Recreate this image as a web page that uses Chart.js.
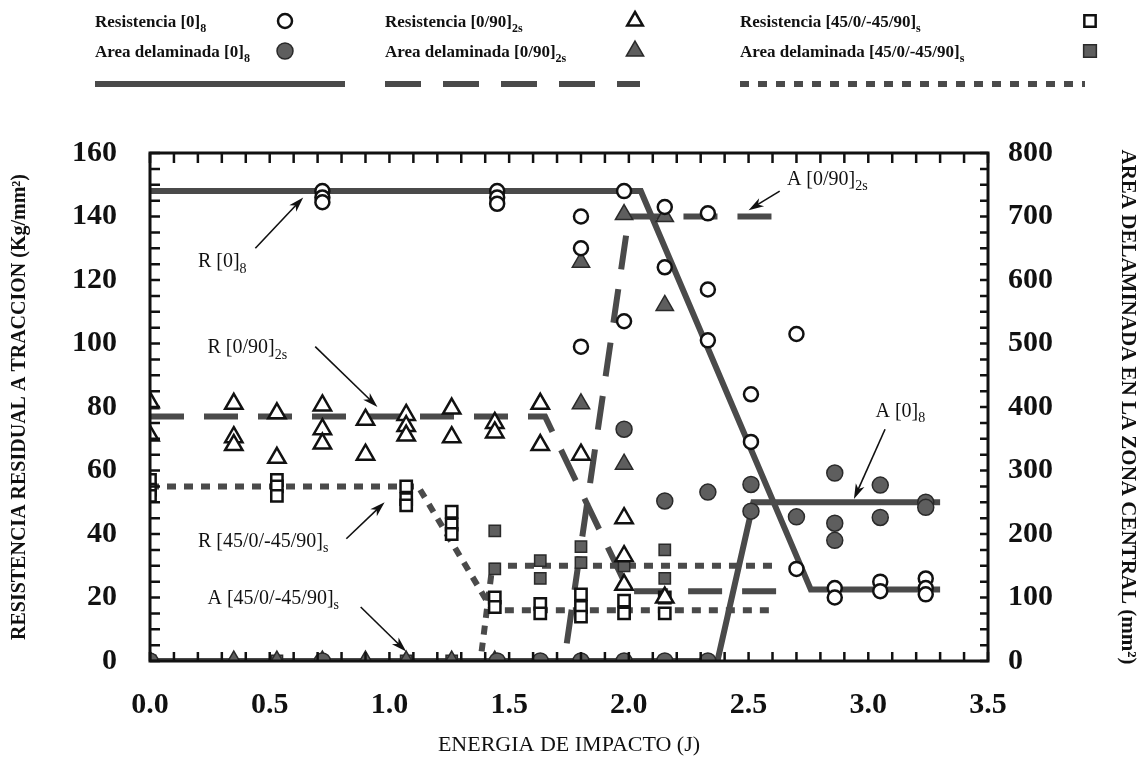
<!DOCTYPE html>
<html>
<head>
<meta charset="utf-8">
<script src="https://cdn.jsdelivr.net/npm/chart.js@4.4.1/dist/chart.umd.min.js"></script>
<style>
  html, body { margin: 0; padding: 0; background: #fff; }
  #wrap { width: 1146px; height: 762px; position: relative; }
</style>
</head>
<body>
<div id="wrap"><canvas id="chart" width="1146" height="762"></canvas></div>
<script>
// measured points: [energia (J), valor]
const resist0 = [[0.72,148],[0.72,146],[0.72,144.5],[1.45,148],[1.45,146],[1.45,144],[1.80,140],[1.80,130],[1.80,99],
  [1.98,148],[1.98,107],[2.15,143],[2.15,124],[2.33,141],[2.33,117],[2.33,101],[2.51,84],[2.51,69],[2.70,103],
  [2.70,29],[2.86,23],[2.86,20],[3.05,25],[3.05,22],[3.24,26],[3.24,23],[3.24,21]];
const area0 = [[0,0],[0.72,0],[1.45,0],[1.63,0],[1.80,0],[1.98,0],[2.15,0],[2.33,0],[1.98,365],[2.15,252],[2.33,266],
  [2.51,278],[2.51,236],[2.70,227],[2.86,296],[2.86,217],[2.86,190],[3.05,277],[3.05,226],[3.24,250],[3.24,242]];
const resist090 = [[0,81.5],[0,71],[0.35,81],[0.35,70.5],[0.35,68],[0.53,78],[0.53,64],[0.72,80.5],[0.72,73],[0.72,68.5],
  [0.9,76],[0.9,65],[1.07,77.5],[1.07,74],[1.07,71],[1.26,79.5],[1.26,70.5],[1.44,75],[1.44,72],[1.63,81],[1.63,68],
  [1.80,65],[1.98,45],[1.98,33],[1.98,24],[2.15,20]];
const area090 = [[0,405],[0,0],[0.35,0],[0.53,0],[0.72,0],[0.9,0],[1.07,0],[1.26,0],[1.44,0],[1.63,405],[1.80,405],
  [1.80,628],[1.98,703],[1.98,310],[2.15,560],[2.15,700]];
const resist45 = [[0,57],[0,54],[0,52],[0.53,57],[0.53,55],[0.53,52],[1.07,55],[1.07,51],[1.07,49],[1.26,47],[1.26,43],
  [1.26,40],[1.44,20],[1.44,17],[1.63,18],[1.63,15],[1.80,21],[1.80,17],[1.80,14],[1.98,19],[1.98,15],[2.15,20],[2.15,15]];
const area45 = [[0,0],[0.53,0],[1.07,0],[1.26,0],[1.44,205],[1.44,145],[1.63,158],[1.63,130],[1.80,180],[1.80,155],
  [1.98,150],[2.15,175],[2.15,130]];

// trend lines
const lineR0 = [[0,148],[2.05,148],[2.76,22.5],[3.3,22.5]];
const lineA0 = [[0,0],[2.37,0],[2.52,250],[3.3,250]];
const lineR090 = [[0,77],[1.65,77],[2.0,22],[2.65,22]];
const lineA090 = [[0,0],[1.73,0],[2.0,700],[2.65,700]];
const lineR45 = [[0,55],[1.12,55],[1.43,16],[2.6,16]];
const lineA45 = [[0,0],[1.38,0],[1.43,150],[2.6,150]];

const SERIF = "'Liberation Serif', 'Times New Roman', serif";
const INK = '#111';
const GREY = '#4a4a4a';
const FILL = '#5e5e5e';

function pts(arr) { return arr.map(([x, y]) => ({ x: x, y: y })); }

function markers(data, axis, style, filled, radius) {
  return {
    type: 'scatter', data: pts(data), yAxisID: axis, showLine: false,
    pointStyle: style, pointRadius: radius, pointHoverRadius: radius,
    backgroundColor: filled ? FILL : '#fff', borderColor: filled ? '#2a2a2a' : INK,
    pointBorderWidth: filled ? 1.5 : 2.5
  };
}

function trend(data, axis, dash) {
  return {
    type: 'line', data: pts(data), yAxisID: axis, borderColor: GREY, borderWidth: 6,
    borderDash: dash, pointRadius: 0, fill: false, tension: 0, borderCapStyle: 'butt'
  };
}

// text with subscript parts: [[text, sub], ...]
function drawRich(ctx, parts, x, y, size, weight) {
  ctx.save();
  ctx.textBaseline = 'alphabetic';
  ctx.textAlign = 'left';
  ctx.fillStyle = INK;
  let cx = x;
  parts.forEach(([t, sub]) => {
    const fs = sub ? Math.round(size * 0.7) : size;
    ctx.font = weight + ' ' + fs + 'px ' + SERIF;
    ctx.fillText(t, cx, sub ? y + size * 0.28 : y);
    cx += ctx.measureText(t).width;
  });
  ctx.restore();
}

function arrow(ctx, x1, y1, x2, y2) {
  const a = Math.atan2(y2 - y1, x2 - x1);
  ctx.save();
  ctx.strokeStyle = INK; ctx.fillStyle = INK; ctx.lineWidth = 1.6;
  ctx.beginPath(); ctx.moveTo(x1, y1); ctx.lineTo(x2 - 10 * Math.cos(a), y2 - 10 * Math.sin(a)); ctx.stroke();
  ctx.beginPath();
  ctx.moveTo(x2, y2);
  ctx.lineTo(x2 - 16 * Math.cos(a - 0.3), y2 - 16 * Math.sin(a - 0.3));
  ctx.lineTo(x2 - 11 * Math.cos(a), y2 - 11 * Math.sin(a));
  ctx.lineTo(x2 - 16 * Math.cos(a + 0.3), y2 - 16 * Math.sin(a + 0.3));
  ctx.closePath(); ctx.fill();
  ctx.restore();
}

// labels on the plot: text position and arrow (data units of the left axis)
const notes = [
  { parts: [['R [0]', 0], ['8', 1]], at: [0.2, 124], from: [0.44, 130], to: [0.64, 146] },
  { parts: [['R [0/90]', 0], ['2s', 1]], at: [0.24, 97], from: [0.69, 99], to: [0.95, 80] },
  { parts: [['R [45/0/-45/90]', 0], ['s', 1]], at: [0.2, 36], from: [0.82, 38.5], to: [0.98, 50] },
  { parts: [['A [45/0/-45/90]', 0], ['s', 1]], at: [0.24, 18], from: [0.88, 17], to: [1.07, 3] },
  { parts: [['A [0/90]', 0], ['2s', 1]], at: [2.66, 150], from: [2.63, 148], to: [2.5, 142] },
  { parts: [['A [0]', 0], ['8', 1]], at: [3.03, 77], from: [3.07, 73], to: [2.94, 51] }
];

// legend block above the plot (pixels)
const legendCols = [
  { x: 95, mx: 285, end: 345, r: [['Resistencia [0]', 0], ['8', 1]], a: [['Area delaminada [0]', 0], ['8', 1]], shape: 'circle', rad: 7, dash: [] },
  { x: 385, mx: 635, end: 640, r: [['Resistencia [0/90]', 0], ['2s', 1]], a: [['Area delaminada [0/90]', 0], ['2s', 1]], shape: 'triangle', rad: 9, dash: [36, 22] },
  { x: 740, mx: 1090, end: 1085, r: [['Resistencia [45/0/-45/90]', 0], ['s', 1]], a: [['Area delaminada [45/0/-45/90]', 0], ['s', 1]], shape: 'rect', rad: 8, dash: [9, 9] }
];

const frame = {
  id: 'frame',
  afterDatasetsDraw(chart) {
    const ctx = chart.ctx, a = chart.chartArea;
    const x = chart.scales.x, y = chart.scales.y, y2 = chart.scales.y2;
    ctx.save();
    ctx.strokeStyle = INK;
    ctx.lineWidth = 3;
    ctx.strokeRect(a.left, a.top, a.right - a.left, a.bottom - a.top);
    ctx.lineWidth = 2.5;
    ctx.beginPath();
    for (let i = 0; i <= 35; i++) {
      const px = x.getPixelForValue(i / 10);
      ctx.moveTo(px, a.bottom); ctx.lineTo(px, a.bottom - 9);
      ctx.moveTo(px, a.top); ctx.lineTo(px, a.top + 10);
    }
    for (let v = 0; v <= 160; v += 5) {
      const py = y.getPixelForValue(v);
      ctx.moveTo(a.left, py); ctx.lineTo(a.left + 10, py);
    }
    for (let v = 0; v <= 800; v += 25) {
      const py = y2.getPixelForValue(v);
      ctx.moveTo(a.right, py); ctx.lineTo(a.right - 8, py);
    }
    ctx.stroke();
    ctx.restore();
  },
  afterDraw(chart) {
    const ctx = chart.ctx;
    const x = chart.scales.x, y = chart.scales.y;
    notes.forEach(n => {
      drawRich(ctx, n.parts, x.getPixelForValue(n.at[0]), y.getPixelForValue(n.at[1]), 20, 'normal');
      arrow(ctx, x.getPixelForValue(n.from[0]), y.getPixelForValue(n.from[1]),
        x.getPixelForValue(n.to[0]), y.getPixelForValue(n.to[1]));
    });

    legendCols.forEach(c => {
      drawRich(ctx, c.r, c.x, 27, 17, 'bold');
      drawRich(ctx, c.a, c.x, 57, 17, 'bold');
      ctx.save();
      ctx.fillStyle = '#fff'; ctx.strokeStyle = INK; ctx.lineWidth = 2.5;
      Chart.helpers.drawPoint(ctx, { pointStyle: c.shape, radius: c.rad, borderWidth: 2.5 }, c.mx, 21);
      ctx.restore();
      ctx.save();
      ctx.fillStyle = FILL; ctx.strokeStyle = '#2a2a2a'; ctx.lineWidth = 1.5;
      Chart.helpers.drawPoint(ctx, { pointStyle: c.shape, radius: c.rad + 1, borderWidth: 1.5 }, c.mx, 51);
      ctx.restore();
      ctx.save();
      ctx.strokeStyle = GREY; ctx.lineWidth = 6; ctx.setLineDash(c.dash);
      ctx.beginPath(); ctx.moveTo(c.x, 84); ctx.lineTo(c.end, 84); ctx.stroke();
      ctx.restore();
    });
  }
};

const chart = new Chart(document.getElementById('chart'), {
  data: {
    datasets: [
      markers(resist0, 'y', 'circle', false, 7),
      markers(area0, 'y2', 'circle', true, 8),
      markers(resist090, 'y', 'triangle', false, 10),
      markers(area090, 'y2', 'triangle', true, 10),
      markers(resist45, 'y', 'rect', false, 8),
      markers(area45, 'y2', 'rect', true, 8),
      trend(lineR0, 'y', []),
      trend(lineA0, 'y2', []),
      trend(lineR090, 'y', [34, 20]),
      trend(lineA090, 'y2', [34, 20]),
      trend(lineR45, 'y', [9, 8]),
      trend(lineA45, 'y2', [9, 8])
    ]
  },
  options: {
    responsive: false,
    animation: false,
    devicePixelRatio: 1,
    layout: { padding: { top: 153, left: 0, right: 0, bottom: 0 } },
    plugins: { legend: { display: false }, tooltip: { enabled: false } },
    scales: {
      x: {
        type: 'linear', min: 0, max: 3.5,
        afterFit: s => { s.height = 101; },
        grid: { display: false, drawTicks: false },
        border: { display: false },
        ticks: { stepSize: 0.5, padding: 26, color: INK, font: { family: SERIF, size: 30, weight: 'bold' },
          callback: v => v.toFixed(1) },
        title: { display: true, text: 'ENERGIA DE IMPACTO (J)', color: INK, padding: { top: 0, bottom: 4 },
          font: { family: SERIF, size: 22 } }
      },
      y: {
        type: 'linear', position: 'left', min: 0, max: 160,
        afterFit: s => { s.width = 150; },
        grid: { display: false, drawTicks: false },
        border: { display: false },
        ticks: { stepSize: 20, padding: 33, color: INK, font: { family: SERIF, size: 30, weight: 'bold' } },
        title: { display: true, text: 'RESISTENCIA RESIDUAL A TRACCION (Kg/mm²)', color: INK, padding: 8,
          font: { family: SERIF, size: 20, weight: 'bold' } }
      },
      y2: {
        type: 'linear', position: 'right', min: 0, max: 800,
        afterFit: s => { s.width = 158; },
        grid: { display: false, drawTicks: false },
        border: { display: false },
        ticks: { stepSize: 100, padding: 20, color: INK, font: { family: SERIF, size: 30, weight: 'bold' } },
        title: { display: true, text: 'AREA DELAMINADA EN LA ZONA CENTRAL (mm²)', color: INK, padding: 6,
          font: { family: SERIF, size: 21, weight: 'bold' } }
      }
    }
  },
  plugins: [frame]
});
</script>
</body>
</html>
